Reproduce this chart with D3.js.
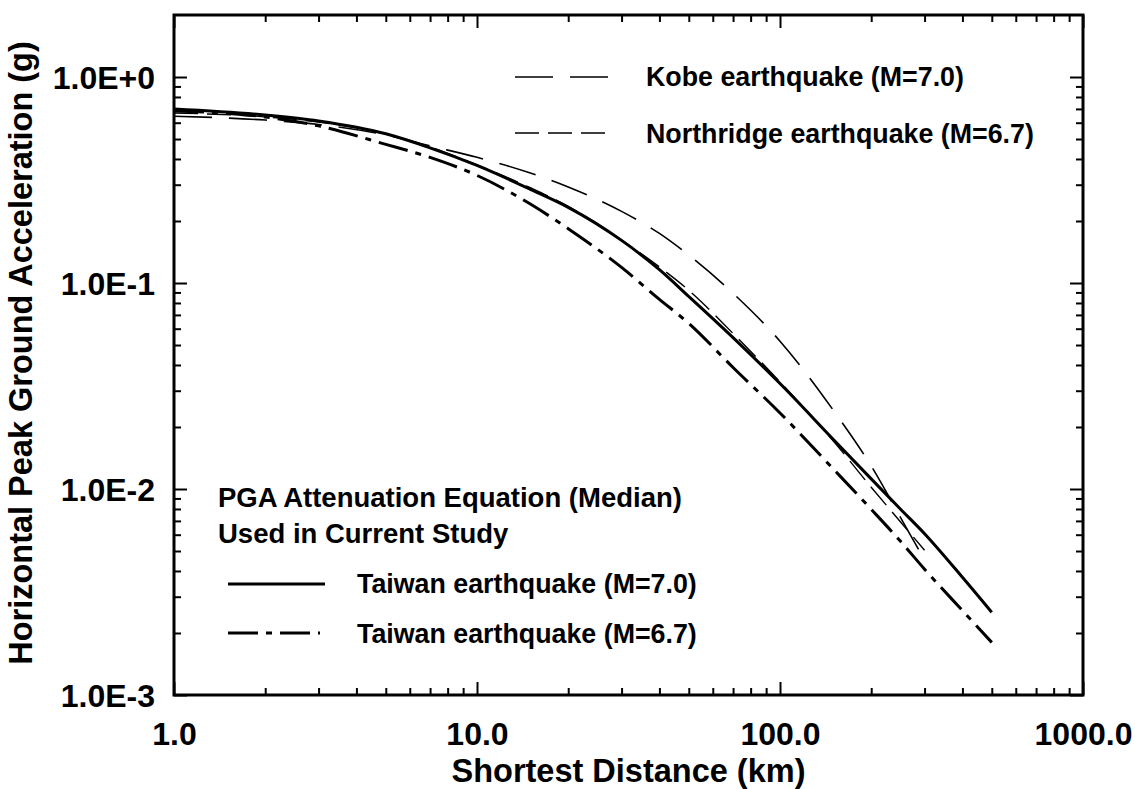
<!DOCTYPE html>
<html>
<head>
<meta charset="utf-8">
<script src="https://cdn.jsdelivr.net/npm/d3@7"></script>
<style>
  html, body { margin: 0; padding: 0; background: #fff; }
  svg text { font-family: "Liberation Sans", Arial, Helvetica, sans-serif; font-weight: bold; fill: #000; }
</style>
</head>
<body>
<svg id="chart" width="1135" height="789"></svg>
<script>
// Distances (km) at which the attenuation curves are sampled
const distTaiwan = [1, 2, 3, 5, 7, 10, 15, 20, 30, 40, 50, 70, 100, 150, 200, 250, 300, 400, 500];
const distRecorded = [1, 2, 3, 5, 7, 10, 15, 20, 30, 40, 50, 70, 100, 150, 200, 250, 300];

// Median horizontal PGA (g)
const taiwan70 = [0.700, 0.654, 0.612, 0.530, 0.453, 0.372, 0.285, 0.233, 0.161, 0.1160, 0.0860, 0.0543, 0.0325, 0.0174, 0.0112, 0.00798, 0.00607, 0.00373, 0.00252];
const taiwan67 = [0.684, 0.640, 0.579, 0.471, 0.407, 0.333, 0.2417, 0.1835, 0.119, 0.0833, 0.0637, 0.0389, 0.0234, 0.0125, 0.00797, 0.00557, 0.00408, 0.00257, 0.00180];
const kobe70 = [0.645, 0.618, 0.588, 0.523, 0.463, 0.4076, 0.3418, 0.2926, 0.2226, 0.174, 0.1365, 0.0891, 0.0522, 0.0241, 0.01293, 0.00727, 0.00451];
const northridge67 = [0.669, 0.640, 0.605, 0.530, 0.458, 0.374, 0.290, 0.2357, 0.1616, 0.1197, 0.0922, 0.0569, 0.0331, 0.0171, 0.0102, 0.00692, 0.00504];

// Axis ticks and labels
const xMajor = [1, 10, 100, 1000];
const xMajorLabels = ["1.0", "10.0", "100.0", "1000.0"];
const yMajor = [0.001, 0.01, 0.1, 1];
const yMajorLabels = ["1.0E-3", "1.0E-2", "1.0E-1", "1.0E+0"];

const series = [
  { name: "Kobe earthquake (M=7.0)", dist: distRecorded, pga: kobe70, width: 1.6, dash: "38,17" },
  { name: "Northridge earthquake (M=6.7)", dist: distRecorded, pga: northridge67, width: 1.4, dash: "24,9" },
  { name: "Taiwan earthquake (M=7.0)", dist: distTaiwan, pga: taiwan70, width: 3, dash: null },
  { name: "Taiwan earthquake (M=6.7)", dist: distTaiwan, pga: taiwan67, width: 3, dash: "30,8,6,8" }
];

const plotLeft = 174, plotRight = 1083, plotTop = 15, plotBottom = 695;
const svg = d3.select("#chart");

const x = d3.scaleLog().domain([1, 1000]).range([plotLeft, plotRight]);
const y = d3.scaleLog().domain([0.001, 2]).range([plotBottom, plotTop]);

function minorTicks(lo, hi) {
  const out = [];
  for (let p = lo; p < hi; p *= 10) for (let k = 2; k <= 9; k++) {
    const v = p * k;
    if (v < hi) out.push(v);
  }
  return out;
}
const xMinor = minorTicks(1, 1000);
const yMinor = minorTicks(0.001, 2);

const majorLen = 13, minorLen = 7;

function styleAxis(g) {
  g.select(".domain").remove();
  g.selectAll(".tick line").attr("stroke", "#000").attr("stroke-width", 2);
}

// bottom axis (labels)
svg.append("g").attr("transform", `translate(0,${plotBottom})`)
  .call(d3.axisBottom(x).tickValues(xMajor).tickSize(-majorLen)
    .tickFormat((d, i) => xMajorLabels[i]))
  .call(styleAxis)
  .call(g => g.selectAll(".tick text").attr("y", 50).attr("dy", null)
    .attr("font-size", 32));
svg.append("g").attr("transform", `translate(0,${plotBottom})`)
  .call(d3.axisBottom(x).tickValues(xMinor).tickSize(-minorLen).tickFormat(""))
  .call(styleAxis);

// top axis
svg.append("g").attr("transform", `translate(0,${plotTop})`)
  .call(d3.axisTop(x).tickValues(xMajor).tickSize(-majorLen).tickFormat(""))
  .call(styleAxis);
svg.append("g").attr("transform", `translate(0,${plotTop})`)
  .call(d3.axisTop(x).tickValues(xMinor).tickSize(-minorLen).tickFormat(""))
  .call(styleAxis);

// left axis (labels)
svg.append("g").attr("transform", `translate(${plotLeft},0)`)
  .call(d3.axisLeft(y).tickValues(yMajor).tickSize(-majorLen)
    .tickFormat((d, i) => yMajorLabels[i]))
  .call(styleAxis)
  .call(g => g.selectAll(".tick text").attr("x", -19).attr("dy", "0.36em")
    .attr("font-size", 32));
svg.append("g").attr("transform", `translate(${plotLeft},0)`)
  .call(d3.axisLeft(y).tickValues(yMinor).tickSize(-minorLen).tickFormat(""))
  .call(styleAxis);

// right axis
svg.append("g").attr("transform", `translate(${plotRight},0)`)
  .call(d3.axisRight(y).tickValues(yMajor).tickSize(-majorLen).tickFormat(""))
  .call(styleAxis);
svg.append("g").attr("transform", `translate(${plotRight},0)`)
  .call(d3.axisRight(y).tickValues(yMinor).tickSize(-minorLen).tickFormat(""))
  .call(styleAxis);

// frame
svg.append("rect")
  .attr("x", plotLeft).attr("y", plotTop)
  .attr("width", plotRight - plotLeft).attr("height", plotBottom - plotTop)
  .attr("fill", "none").attr("stroke", "#000").attr("stroke-width", 3);

// curves
const line = d3.line()
  .x(d => x(d[0]))
  .y(d => y(d[1]))
  .curve(d3.curveMonotoneX);

const curves = svg.append("g");
series.forEach(s => {
  curves.append("path")
    .datum(s.dist.map((d, i) => [d, s.pga[i]]))
    .attr("d", line)
    .attr("fill", "none")
    .attr("stroke", "#000")
    .attr("stroke-width", s.width)
    .attr("stroke-dasharray", s.dash)
    .attr("stroke-linecap", "butt");
});

// legends
const legendFont = 26.8;
function legendEntry(s, x0, x1, ly, tx, ty) {
  svg.append("line")
    .attr("x1", x0).attr("x2", x1).attr("y1", ly).attr("y2", ly)
    .attr("stroke", "#000").attr("stroke-width", s.width)
    .attr("stroke-dasharray", s.dash);
  svg.append("text").attr("x", tx).attr("y", ty)
    .attr("font-size", legendFont).text(s.name);
}
legendEntry(series[0], 515, 610, 77, 646, 86);
legendEntry(series[1], 515, 607, 133, 646, 143);

svg.append("text").attr("x", 218).attr("y", 507).attr("font-size", 27.5)
  .text("PGA Attenuation Equation (Median)");
svg.append("text").attr("x", 218).attr("y", 543).attr("font-size", 27.5)
  .text("Used in Current Study");
legendEntry(series[2], 228, 325, 584, 357, 593);
legendEntry(series[3], 228, 320, 633, 357, 643);

// axis titles
svg.append("text")
  .attr("x", (plotLeft + plotRight) / 2).attr("y", 782)
  .attr("text-anchor", "middle").attr("font-size", 32.5)
  .text("Shortest Distance (km)");
svg.append("text")
  .attr("transform", `translate(32,${(plotTop + plotBottom) / 2 - 2}) rotate(-90)`)
  .attr("text-anchor", "middle").attr("font-size", 32.5)
  .text("Horizontal Peak Ground Acceleration (g)");
</script>
</body>
</html>
